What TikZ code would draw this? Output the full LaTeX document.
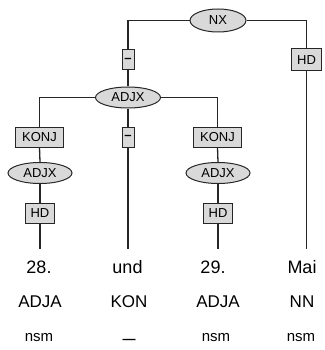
\documentclass[tikz,border=0pt]{standalone}
\usepackage{fontspec}
\setmainfont{Liberation Sans}
\usetikzlibrary{shapes.geometric}
\begin{document}
\begin{tikzpicture}[x=1pt,y=-1pt,
  edge/.style={line width=1.3pt, draw=black!85},
  cat/.style={ellipse, draw=black!85, line width=1pt, fill=black!15, inner sep=0pt,
    minimum width=64pt, minimum height=21pt, font=\fontsize{13}{13}\selectfont},
  fn/.style={rectangle, draw=black!85, line width=1pt, fill=black!15, inner sep=0pt,
    minimum height=20pt, font=\fontsize{13}{13}\selectfont},
  word/.style={anchor=base, inner sep=0pt, font=\fontsize{18}{18}\selectfont},
  tag/.style={anchor=base, inner sep=0pt, font=\fontsize{17}{17}\selectfont},
  morph/.style={anchor=base, inner sep=0pt, font=\fontsize{15}{15}\selectfont}
]
\useasboundingbox (0,0) rectangle (324,350);
% tree nodes
\node[cat, minimum width=56pt, minimum height=23pt] (nx) at (218,20.5) {NX};
\node[fn, minimum width=12pt, font=\fontsize{13}{13}\bfseries] (f1) at (128,60) {–};
\node[fn, minimum width=30pt, minimum height=22pt] (hd4) at (306.5,60) {HD};
\node[cat, minimum width=65pt] (adjx) at (128,97.5) {ADJX};
\node[fn, minimum width=48pt] (k1) at (39.5,137) {KONJ};
\node[fn, minimum width=12pt, font=\fontsize{13}{13}\bfseries] (f2) at (128,137) {–};
\node[fn, minimum width=48pt] (k3) at (217.5,137) {KONJ};
\node[cat] (a1) at (40,173) {ADJX};
\node[cat] (a3) at (218,173) {ADJX};
\node[fn, minimum width=29pt] (h1) at (40,213) {HD};
\node[fn, minimum width=29pt] (h3) at (218,213) {HD};
% line ends
\coordinate (e1) at (40,249);
\coordinate (e2) at (128,249);
\coordinate (e3) at (218,249);
\coordinate (e4) at (306.5,249);
% words
\node[word] (w1) at (39,273) {28.};
\node[word] (w2) at (127.5,273) {und};
\node[word] (w3) at (213,273) {29.};
\node[word] (w4) at (302,273) {Mai};
\node[tag] (t1) at (40,307) {ADJA};
\node[tag] (t2) at (129,307) {KON};
\node[tag] (t3) at (218,307) {ADJA};
\node[tag] (t4) at (302,307) {NN};
\node[morph] (m1) at (39,341) {nsm};
\node[morph, font=\fontsize{13}{13}\bfseries] (m2) at (129,343) {—};
\node[morph] (m3) at (216,341) {nsm};
\node[morph] (m4) at (301,341) {nsm};
% edges
\draw[edge] (nx.west) -| (f1.north);
\draw[edge] (f1.south) -- (adjx.north);
\draw[edge] (nx.east) -| (hd4.north);
\draw[edge] (hd4.south) -- (e4);
\draw[edge] (adjx.west) -| (k1.north);
\draw[edge] (adjx.east) -| (k3.north);
\draw[edge] (adjx.south) -- (f2.north);
\draw[edge] (f2.south) -- (e2);
\draw[edge] (k1.south) -- (a1.north);
\draw[edge] (a1.south) -- (h1.north);
\draw[edge] (h1.south) -- (e1);
\draw[edge] (k3.south) -- (a3.north);
\draw[edge] (a3.south) -- (h3.north);
\draw[edge] (h3.south) -- (e3);
\end{tikzpicture}
\end{document}
